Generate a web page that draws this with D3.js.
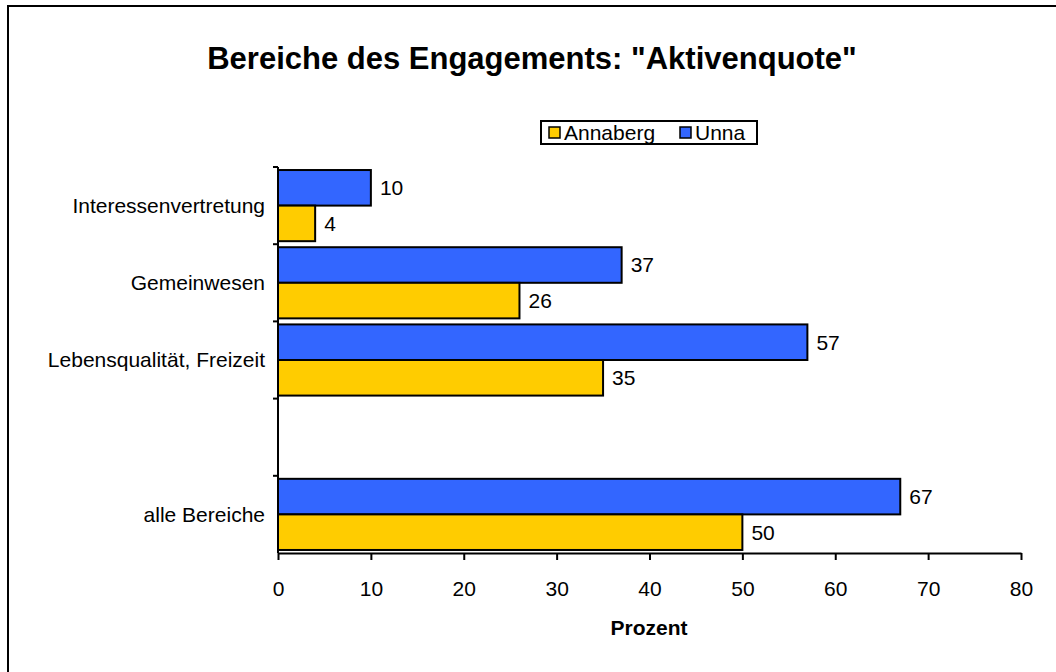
<!DOCTYPE html>
<html>
<head>
<meta charset="utf-8">
<script src="https://cdn.jsdelivr.net/npm/d3@7"></script>
<style>
  html, body { margin: 0; padding: 0; background: #fff; }
  svg { display: block; font-family: "Liberation Sans", Arial, sans-serif; }
</style>
</head>
<body>
<svg id="chart" width="1056" height="672"></svg>
<script>
// Kategorien von oben nach unten (leere Zeile als Abstand vor "alle Bereiche")
const categories = ["Interessenvertretung", "Gemeinwesen", "Lebensqualität, Freizeit", "", "alle Bereiche"];
const seriesNames = ["Unna", "Annaberg"];
const unna     = [10, 37, 57, null, 67];
const annaberg = [4, 26, 35, null, 50];
const xTicks = [0, 10, 20, 30, 40, 50, 60, 70, 80];
const legendOrder = ["Annaberg", "Unna"];
const colors = { Annaberg: "#FFCC00", Unna: "#3366FF" };

const FS = 21;
const svg = d3.select("#chart");

// Rahmen (links und oben)
svg.append("path")
  .attr("d", "M8,672 L8,6 L1056,6")
  .attr("fill", "none").attr("stroke", "#000").attr("stroke-width", 2);

// Titel
svg.append("text")
  .attr("x", 532).attr("y", 69)
  .attr("text-anchor", "middle")
  .attr("font-size", 31).attr("font-weight", "bold")
  .text("Bereiche des Engagements: \"Aktivenquote\"");

// Skalen
const x = d3.scaleLinear().domain([0, 80]).range([278, 1021]);
const y = d3.scaleBand().domain(categories).range([167, 553]).paddingInner(0).paddingOuter(0);
const inner = d3.scaleBand().domain(seriesNames).range([0, y.bandwidth()]).paddingOuter(0.085).paddingInner(0);

const rows = categories.map((c, i) => ({ cat: c, Unna: unna[i], Annaberg: annaberg[i] }));

// Balken
const groups = svg.append("g").selectAll("g")
  .data(rows.filter(r => r.Unna !== null))
  .join("g")
  .attr("transform", d => `translate(0,${y(d.cat)})`);

groups.selectAll("rect")
  .data(d => seriesNames.map(s => ({ s, v: d[s] })))
  .join("rect")
  .attr("x", x(0))
  .attr("y", d => inner(d.s))
  .attr("width", d => x(d.v) - x(0))
  .attr("height", inner.bandwidth())
  .attr("fill", d => colors[d.s])
  .attr("stroke", "#000").attr("stroke-width", 2);

groups.selectAll("text")
  .data(d => seriesNames.map(s => ({ s, v: d[s] })))
  .join("text")
  .attr("x", d => x(d.v) + 9)
  .attr("y", d => inner(d.s) + inner.bandwidth() / 2)
  .attr("dy", "0.35em")
  .attr("font-size", FS)
  .text(d => d.v);

// X-Achse
const xAxis = svg.append("g")
  .attr("transform", `translate(0,${y.range()[1]})`)
  .call(d3.axisBottom(x).tickValues(xTicks).tickSize(7).tickPadding(21).tickSizeOuter(0));
xAxis.select(".domain").attr("stroke-width", 2);
xAxis.selectAll(".tick line").attr("stroke-width", 2);
xAxis.selectAll("text").attr("font-size", FS).attr("font-family", "Liberation Sans, Arial, sans-serif");

svg.append("text")
  .attr("x", 649).attr("y", 635)
  .attr("text-anchor", "middle")
  .attr("font-size", FS).attr("font-weight", "bold")
  .text("Prozent");

// Y-Achse mit Teilstrichen an den Kategoriegrenzen
const yAxisG = svg.append("g");
yAxisG.append("line")
  .attr("x1", x(0)).attr("x2", x(0))
  .attr("y1", y.range()[0]).attr("y2", y.range()[1])
  .attr("stroke", "#000").attr("stroke-width", 2);
const bounds = categories.map(c => y(c));
yAxisG.selectAll("line.tick")
  .data(bounds)
  .join("line")
  .attr("class", "tick")
  .attr("x1", x(0) - 5).attr("x2", x(0))
  .attr("y1", d => d).attr("y2", d => d)
  .attr("stroke", "#000").attr("stroke-width", 2);
yAxisG.selectAll("text")
  .data(categories.filter(c => c !== ""))
  .join("text")
  .attr("x", 265)
  .attr("y", d => y(d) + y.bandwidth() / 2)
  .attr("dy", "0.35em")
  .attr("text-anchor", "end")
  .attr("font-size", FS)
  .text(d => d);

// Legende
const legend = svg.append("g");
legend.append("rect")
  .attr("x", 541).attr("y", 121).attr("width", 216).attr("height", 23)
  .attr("fill", "#fff").attr("stroke", "#000").attr("stroke-width", 2);
const legendX = { Annaberg: 549, Unna: 680 };
legendOrder.forEach(s => {
  legend.append("rect")
    .attr("x", legendX[s]).attr("y", 127).attr("width", 11).attr("height", 11)
    .attr("fill", colors[s]).attr("stroke", "#000").attr("stroke-width", 1.5);
  legend.append("text")
    .attr("x", legendX[s] + 15).attr("y", 133)
    .attr("dy", "0.35em")
    .attr("font-size", FS)
    .text(s);
});
</script>
</body>
</html>
